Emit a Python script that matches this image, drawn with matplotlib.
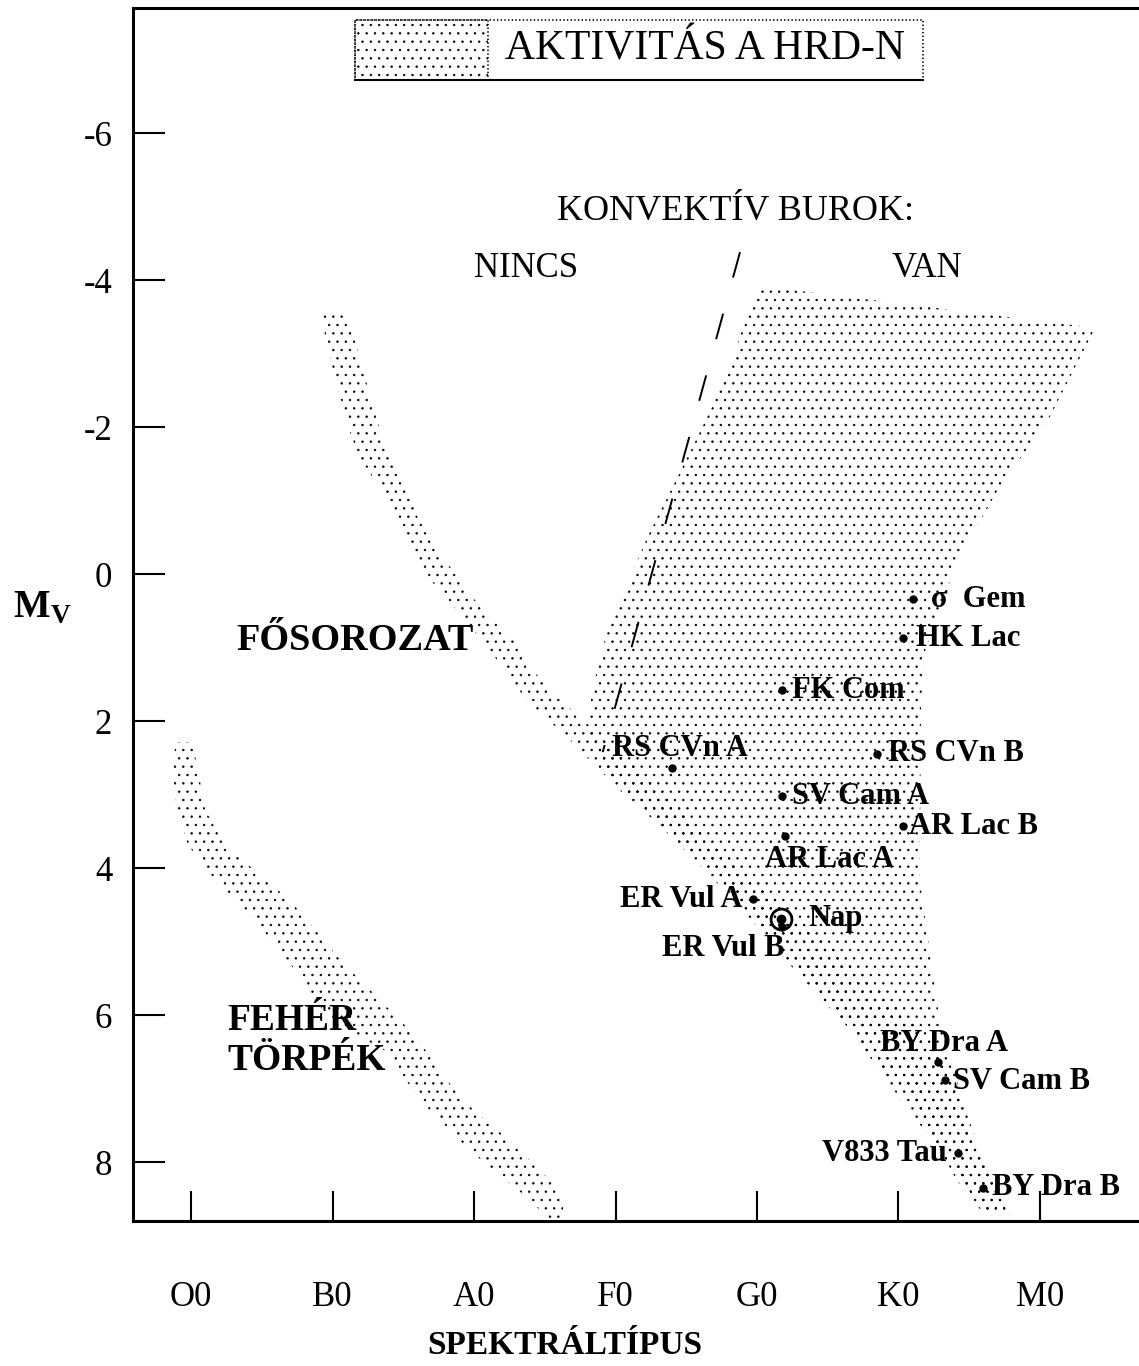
import matplotlib
matplotlib.use('Agg')
import matplotlib.pyplot as plt
from matplotlib.patches import Polygon, Rectangle

plt.rcParams['font.family'] = ['Liberation Serif', 'DejaVu Serif']
plt.rcParams['axes.unicode_minus'] = False
plt.rcParams['hatch.linewidth'] = 0.5
plt.rcParams['lines.scale_dashes'] = False
plt.rcParams['mathtext.fontset'] = 'custom'
plt.rcParams['mathtext.rm'] = 'Liberation Serif'
plt.rcParams['mathtext.bf'] = 'Liberation Serif:bold'

# x axis: spectral class index (O0=0 ... M0=6), y axis: absolute magnitude M_V
spectral_types = ['O0', 'B0', 'A0', 'F0', 'G0', 'K0', 'M0']
mv_ticks = [-6, -4, -2, 0, 2, 4, 6, 8]

# active stars
star_names = ['σ  Gem', 'HK Lac', 'FK Com', 'RS CVn A', 'RS CVn B', 'SV Cam A',
              'AR Lac B', 'AR Lac A', 'ER Vul A', 'ER Vul B', 'BY Dra A',
              'SV Cam B', 'V833 Tau', 'BY Dra B']
star_sp = [5.10, 5.03, 4.18, 3.40, 4.85, 4.18, 5.03, 4.20, 3.97, 4.18, 5.28,
           5.33, 5.42, 5.60]
star_mv = [0.34, 0.87, 1.58, 2.64, 2.44, 3.02, 3.43, 3.56, 4.42, 4.80, 6.64,
           6.88, 7.88, 8.35]

sun_sp = 4.17
sun_mv = 4.69

# region of magnetic activity
activity_sp = [4.02, 6.39, 6.07, 5.70, 5.41, 5.19, 5.16, 5.15, 5.24, 5.29, 5.48,
               5.65, 5.77, 5.61, 5.29, 4.94, 4.66, 4.30, 4.02, 3.67, 3.24, 2.89,
               2.81, 2.83, 2.93, 3.07, 3.23, 3.47, 3.68, 3.84, 3.92]
activity_mv = [-3.92, -3.35, -2.14, -1.14, -0.15, 1.03, 1.71, 4.16, 5.39, 6.07,
               7.33, 8.20, 8.68, 8.68, 7.84, 6.95, 6.20, 5.46, 4.84, 4.10, 3.28,
               2.60, 2.12, 1.61, 0.86, 0.19, -0.52, -1.44, -2.26, -3.01, -3.46]

# main sequence band
ms_sp = [0.93, 0.95, 1.05, 1.11, 1.19, 1.39, 1.53, 1.71, 1.88, 2.11, 2.37, 2.68,
         3.03, 3.39, 3.65, 4.04, 4.28, 4.59, 4.82, 5.10, 5.41, 5.61,
         5.79, 5.61, 5.47, 5.35, 5.15, 4.87, 4.59, 4.30, 4.02, 3.74, 3.46, 3.17,
         2.89, 2.61, 2.47, 2.28, 2.06, 1.78, 1.60, 1.46, 1.35, 1.27, 1.21, 1.12,
         1.05]
ms_mv = [-3.55, -3.18, -2.44, -2.00, -1.59, -1.01, -0.42, 0.12, 0.49, 1.03, 1.71,
         2.26, 2.94, 3.55, 3.96, 4.80, 5.39, 6.03, 6.61, 7.16, 8.24, 8.72,
         8.72, 8.04, 7.36, 6.75, 6.20, 5.66, 5.18, 4.71, 4.23, 3.76, 3.21, 2.67,
         2.19, 1.71, 1.44, 0.90, 0.49, -0.23, -0.78, -1.46, -1.86, -2.41, -2.80,
         -3.46, -3.55]

# white dwarf band
wd_sp = [-0.11, -0.13, -0.10, -0.02, 0.17, 0.42, 0.63, 0.81, 0.98, 1.37, 1.62,
         1.97, 2.40, 2.52, 2.64, 2.61, 2.25, 1.92, 1.76, 1.58, 1.34, 1.09, 0.91,
         0.70, 0.45, 0.24, 0.10, 0.05, 0.01]
wd_mv = [2.29, 2.67, 3.21, 3.69, 4.16, 4.64, 5.12, 5.59, 6.07, 6.48, 7.16, 7.84,
         8.52, 8.76, 8.76, 8.38, 7.70, 7.16, 6.75, 6.27, 5.80, 5.32, 4.91, 4.44,
         4.03, 3.69, 3.21, 2.67, 2.29]

# boundary of the convective envelope
conv_sp = [3.88, 2.91]
conv_mv = [-4.38, 2.42]

# label placement (pixel offsets from the star, horizontal alignment)
label_pos = {
    'σ  Gem': (18, 0, 'left'), 'HK Lac': (13, 0, 'left'),
    'FK Com': (10, 0, 'left'), 'RS CVn A': (-60, 20, 'left'),
    'RS CVn B': (11, 0, 'left'), 'SV Cam A': (10, 0, 'left'),
    'AR Lac B': (6, 0, 'left'), 'AR Lac A': (-20, -24, 'left'),
    'ER Vul A': (-10, 0, 'right'), 'ER Vul B': (2, -21, 'right'),
    'BY Dra A': (-58, 19, 'left'), 'SV Cam B': (8, -2, 'left'),
    'V833 Tau': (-11, 0, 'right'), 'BY Dra B': (9, 0, 'left'),
}


def main():
    fig = plt.figure(figsize=(11.39, 13.66), dpi=100)
    ax = fig.add_axes([0.1168, 0.1061, 0.8832, 0.888])

    stipple = dict(facecolor='none', edgecolor='black', lw=0)
    ax.add_patch(Polygon(list(zip(activity_sp, activity_mv)), hatch='..', **stipple))
    ax.add_patch(Polygon(list(zip(ms_sp, ms_mv)), hatch='..', **stipple))
    ax.add_patch(Polygon(list(zip(wd_sp, wd_mv)), hatch='..', **stipple))

    ax.plot(conv_sp, conv_mv, color='black', lw=1.4, linestyle=(0, (19, 27)))

    ax.plot(star_sp, star_mv, 'o', color='black', ms=5)
    ax.plot(sun_sp, sun_mv, 'o', mfc='none', mec='black', mew=2, ms=15)
    ax.plot(sun_sp, sun_mv, 'o', color='black', ms=6)

    for name, x, y in zip(star_names, star_sp, star_mv):
        dx, dy, ha = label_pos[name]
        ax.annotate(name, (x, y), xytext=(dx, dy), textcoords='offset pixels',
                    ha=ha, va='center', fontsize=22, fontweight='bold')
    ax.annotate('Nap', (sun_sp, sun_mv), xytext=(27, 0), textcoords='offset pixels',
                ha='left', va='center', fontsize=22, fontweight='bold')

    ax.text(3.845, -4.93, 'KONVEKTÍV BUROK:', ha='center', va='center', fontsize=26)
    ax.text(2.367, -4.16, 'NINCS', ha='center', va='center', fontsize=25)
    ax.text(5.20, -4.16, 'VAN', ha='center', va='center', fontsize=25)
    ax.text(0.318, 0.90, 'FŐSOROZAT', ha='left', va='center', fontsize=27.5,
            fontweight='bold')
    ax.text(0.254, 6.34, 'FEHÉR\nTÖRPÉK', ha='left', va='center', fontsize=27,
            fontweight='bold', linespacing=1.2)

    # legend box at the top
    ax.add_patch(Rectangle((0.2207, 0.9406), 0.5643, 0.0494, transform=ax.transAxes,
                           fill=False, ls=':', lw=1.2, edgecolor='black'))
    ax.add_patch(Rectangle((0.2207, 0.9406), 0.1322, 0.0494, transform=ax.transAxes,
                           facecolor='none', edgecolor='black', hatch='..', ls=':', lw=1.2))
    ax.plot([0.2207, 0.785], [0.9406, 0.9406], transform=ax.transAxes,
            color='black', lw=1.5)
    ax.text(0.3698, 0.966, 'AKTIVITÁS A HRD-N', transform=ax.transAxes,
            ha='left', va='center', fontsize=30)

    ax.set_xlim(-0.41, 6.70)
    ax.set_ylim(8.80, -7.70)
    ax.set_xticks(range(len(spectral_types)))
    ax.set_xticklabels(spectral_types)
    ax.set_yticks(mv_ticks)
    ax.tick_params(axis='x', direction='in', length=21.5, width=1.5, pad=43,
                   labelsize=25, top=False)
    ax.tick_params(axis='y', direction='in', length=23, width=1.5, pad=15,
                   labelsize=25, right=False)

    ax.spines['right'].set_visible(False)
    for side in ['left', 'top', 'bottom']:
        ax.spines[side].set_linewidth(2.2)

    ax.set_ylabel(r'$\mathbf{M}_\mathbf{V}$', rotation=0, fontsize=28,
                  ha='center', va='center')
    ax.yaxis.set_label_coords(-0.0905, 0.506)
    ax.set_xlabel('SPEKTRÁLTÍPUS', fontsize=24, fontweight='bold', va='center')
    ax.xaxis.set_label_coords(0.4294, -0.1026)

    fig.savefig('out.png', dpi=100)


if __name__ == '__main__':
    main()
